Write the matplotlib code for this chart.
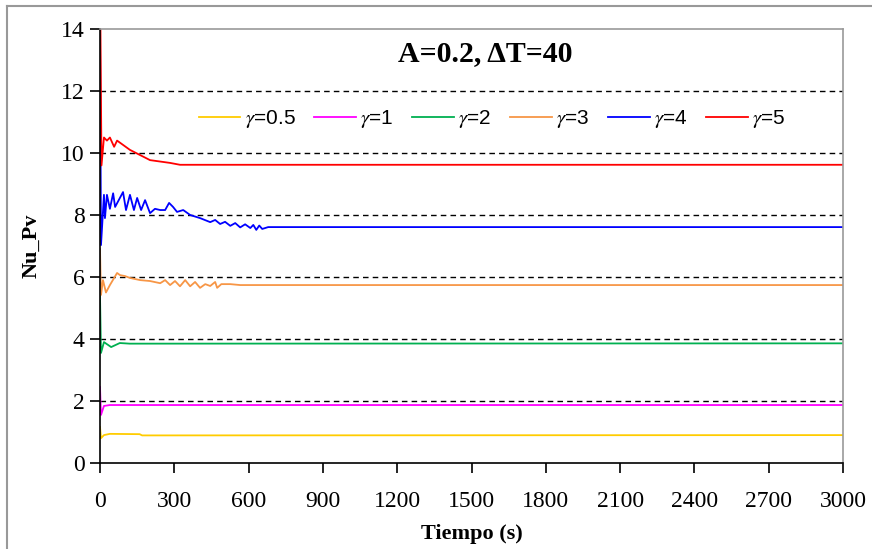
import matplotlib
matplotlib.use('Agg')
import matplotlib.pyplot as plt
from matplotlib.lines import Line2D

plt.rcParams['mathtext.fontset'] = 'stix'

# gamma = 0.5
t_g05 = [0, 4, 16, 40, 160, 170, 3000]
v_g05 = [1.16, 0.80, 0.90, 0.94, 0.93, 0.89, 0.90]
# gamma = 1
t_g1 = [0, 4, 16, 40, 3000]
v_g1 = [2.45, 1.55, 1.84, 1.87, 1.87]
# gamma = 2
t_g2 = [0, 4, 16, 45, 80, 120, 3000]
v_g2 = [5.40, 3.55, 3.90, 3.74, 3.87, 3.85, 3.86]
# gamma = 3
t_g3 = [0, 4, 12, 24, 40, 69, 81, 101, 121, 162, 202, 243, 263, 283, 303, 323, 344, 364,
        384, 404, 425, 445, 465, 473, 490, 526, 566, 3000]
v_g3 = [6.90, 5.42, 5.90, 5.50, 5.74, 6.13, 6.06, 6.03, 5.97, 5.90, 5.87, 5.80, 5.90, 5.74,
        5.87, 5.70, 5.90, 5.70, 5.84, 5.65, 5.77, 5.71, 5.84, 5.65, 5.77, 5.77, 5.74, 5.74]
# gamma = 4
t_g4 = [0, 4, 16, 20, 28, 40, 53, 61, 93, 105, 121, 137, 150, 166, 182, 202, 222, 243,
        263, 279, 295, 311, 336, 364, 404, 445, 465, 485, 505, 526, 546, 566, 586, 607,
        619, 631, 643, 655, 679, 3000]
v_g4 = [14.0, 7.03, 8.65, 7.90, 8.65, 8.20, 8.70, 8.26, 8.74, 8.16, 8.65, 8.16, 8.55, 8.16,
        8.48, 8.06, 8.20, 8.16, 8.16, 8.39, 8.26, 8.10, 8.16, 8.00, 7.90, 7.77, 7.84, 7.71,
        7.78, 7.65, 7.74, 7.60, 7.70, 7.58, 7.68, 7.52, 7.66, 7.55, 7.61, 7.61]
# gamma = 5
t_g5 = [0, 6, 16, 28, 40, 57, 69, 121, 202, 283, 323, 3000]
v_g5 = [16.0, 9.60, 10.50, 10.40, 10.50, 10.20, 10.40, 10.10, 9.77, 9.68, 9.62, 9.62]

labels = [r'$\gamma$=0.5', r'$\gamma$=1', r'$\gamma$=2', r'$\gamma$=3', r'$\gamma$=4', r'$\gamma$=5']
colors = ['#FFCC00', '#FF00FF', '#00B050', '#F79646', '#0000FF', '#FF0000']
series = [(t_g05, v_g05), (t_g1, v_g1), (t_g2, v_g2), (t_g3, v_g3), (t_g4, v_g4), (t_g5, v_g5)]

fig = plt.figure(figsize=(8.72, 5.49), dpi=100)
ax = fig.add_axes([100 / 872, 1 - 463 / 549, 743 / 872, 434 / 549])

for (t, v), c, lab in zip(series, colors, labels):
    ax.plot(t, v, color=c, lw=1.3, label=lab)

ax.set_xlim(0, 3000)
ax.set_ylim(0, 14)
ax.set_xticks(range(0, 3001, 300))
ax.set_yticks(range(0, 15, 2))
for y in range(2, 13, 2):
    ax.axhline(y, color='black', lw=1, ls=(0, (4, 3)), zorder=0)

for s in ['left', 'bottom']:
    ax.spines[s].set_color('black')
    ax.spines[s].set_linewidth(1.2)
for s in ['top', 'right']:
    ax.spines[s].set_color('#999999')
    ax.spines[s].set_linewidth(1.2)

ax.tick_params(direction='out', length=7, width=1.2, labelsize=17, pad=4)
for lbl in ax.get_xticklabels() + ax.get_yticklabels():
    lbl.set_fontfamily('Liberation Serif')
ax.tick_params(axis='x', pad=13)

ax.set_xlabel('Tiempo (s)', fontfamily='Liberation Serif', fontweight='bold', fontsize=16, labelpad=9)
ax.set_ylabel('Nu_Pv', fontfamily='Liberation Serif', fontweight='bold', fontsize=16, labelpad=14)

ax.text(0.518, 0.943, r'A=0.2, ΔT=40', transform=ax.transAxes, ha='center', va='center',
        fontfamily='Liberation Serif', fontweight='bold', fontsize=21.5)

ax.legend(loc='center', bbox_to_anchor=(0.528, 0.792), ncol=6, frameon=False,
          prop={'family': 'Liberation Sans', 'size': 15}, handlelength=2.0,
          handletextpad=0.2, columnspacing=0.9, borderaxespad=0)

# outer chart frame
fig.add_artist(Line2D([7 / 872, 1], [1 - 6 / 549, 1 - 6 / 549], color='#999999', lw=1.5,
                      transform=fig.transFigure))
fig.add_artist(Line2D([7 / 872, 7 / 872], [0, 1 - 6 / 549], color='#999999', lw=1.5,
                      transform=fig.transFigure))

fig.savefig('out.png', dpi=100)
